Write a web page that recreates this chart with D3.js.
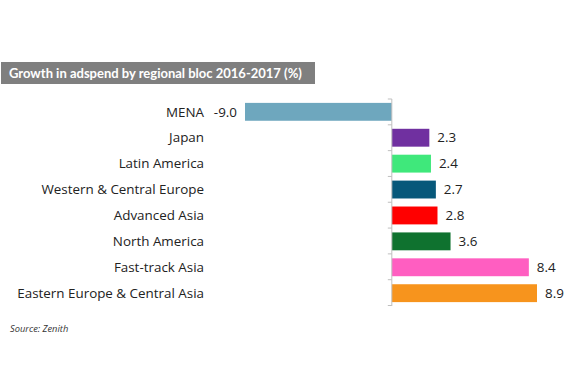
<!DOCTYPE html>
<html>
<head>
<meta charset="utf-8">
<style>
body { margin: 0; background: #fff; }
text { font-family: "Open Sans", Lato, sans-serif; }
</style>
</head>
<body>
<script src="https://cdn.jsdelivr.net/npm/d3@7"></script>
<script>

var regions = ["MENA", "Japan", "Latin America", "Western & Central Europe", "Advanced Asia",
	"North America", "Fast-track Asia", "Eastern Europe & Central Asia"];
var growth = [-9.0, 2.3, 2.4, 2.7, 2.8, 3.6, 8.4, 8.9];
var colors = ["#6ea7be", "#7030a0", "#3fe87b", "#07587a", "#ff0000", "#0f722f", "#ff5ec1", "#f7941d"];
var title = "Growth in adspend by regional bloc 2016-2017 (%)";
var source = "Source: Zenith";

var width = 570, height = 380;

var svg = d3.select("body").append("svg")
	.attr("width", width)
	.attr("height", height);

// title box
svg.append("rect")
	.attr("x", 1)
	.attr("y", 62)
	.attr("width", 314)
	.attr("height", 22)
	.attr("fill", "#7f7f7f");

svg.append("text")
	.attr("x", 9)
	.attr("y", 78)
	.attr("fill", "#fff")
	.style("font-weight", "bold")
	.style("font-family", "Lato, sans-serif")
	.style("font-size", "13px")
	.text(title);

var xScale = d3.scaleLinear()
	.domain([-9, 8.9])
	.range([245, 537]);

var yScale = d3.scaleBand()
	.domain(regions)
	.range([99, 306])
	.paddingInner(0.31)
	.paddingOuter(0.15);

var data = regions.map((r, i) => ({ region: r, value: growth[i], color: colors[i] }));

svg.selectAll(".bar")
	.data(data)
  .enter().append("rect")
	.attr("class", "bar")
	.attr("x", d => xScale(Math.min(0, d.value)))
	.attr("y", d => yScale(d.region))
	.attr("width", d => Math.abs(xScale(d.value) - xScale(0)))
	.attr("height", yScale.bandwidth())
	.attr("fill", d => d.color);

// axis at zero with ticks at category boundaries
var axis = svg.append("g");
axis.append("line")
	.attr("x1", xScale(0)).attr("x2", xScale(0))
	.attr("y1", 99).attr("y2", 306)
	.attr("stroke", "#bfbfbf");

axis.selectAll(".tk")
	.data(d3.range(regions.length + 1))
  .enter().append("line")
	.attr("x1", xScale(0) - 4).attr("x2", xScale(0))
	.attr("y1", i => 99 + i * (206.5 / regions.length))
	.attr("y2", i => 99 + i * (206.5 / regions.length))
	.attr("stroke", "#bfbfbf");

// category labels
svg.selectAll(".lab")
	.data(data)
  .enter().append("text")
	.attr("x", 204)
	.attr("y", d => yScale(d.region) + yScale.bandwidth() / 2)
	.attr("dy", "0.35em")
	.attr("text-anchor", "end")
	.attr("font-size", 13.4)
	.attr("fill", "#222")
	.text(d => d.region);

// value labels
svg.selectAll(".val")
	.data(data)
  .enter().append("text")
	.attr("x", d => d.value < 0 ? xScale(d.value) - 8 : xScale(d.value) + 8)
	.attr("y", d => yScale(d.region) + yScale.bandwidth() / 2)
	.attr("dy", "0.35em")
	.attr("text-anchor", d => d.value < 0 ? "end" : "start")
	.attr("font-size", 13.4)
	.attr("fill", "#222")
	.text(d => d.value.toFixed(1));

svg.append("text")
	.attr("x", 10)
	.attr("y", 332)
	.attr("font-size", 9.3)
	.attr("font-style", "italic")
	.attr("fill", "#333")
	.text(source);

</script>
</body>
</html>
